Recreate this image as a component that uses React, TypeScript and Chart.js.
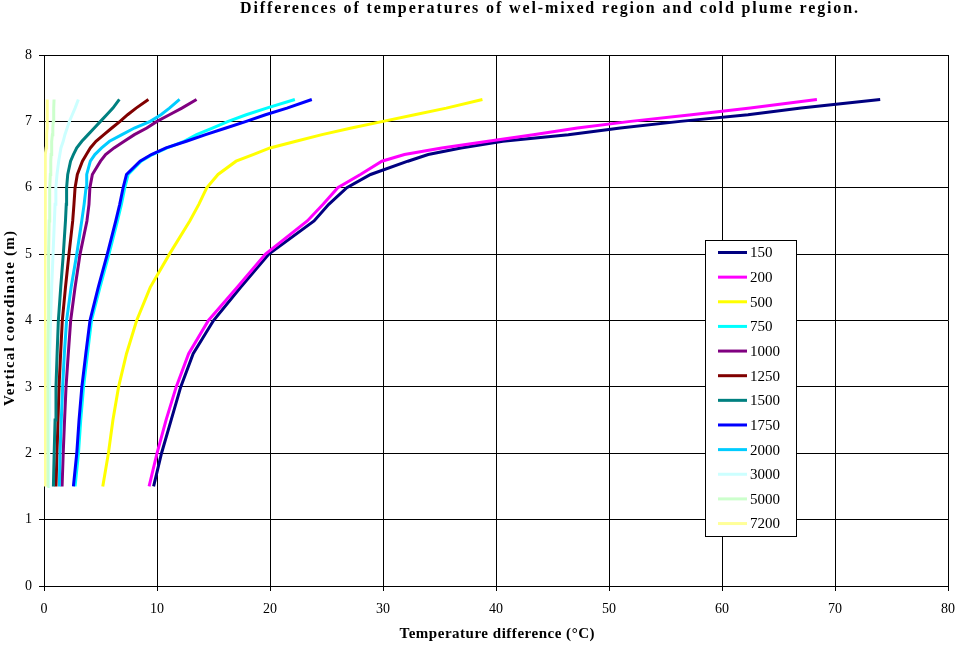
import React, { useEffect, useRef } from "react";
import { Chart, registerables } from "chart.js";

Chart.register(...registerables);

const TITLE = "Differences of temperatures of wel-mixed region and cold plume region.";
const X_TITLE = "Temperature difference (°C)";
const Y_TITLE = "Vertical coordinate (m)";

const xTicks = [0, 10, 20, 30, 40, 50, 60, 70, 80];
const yTicks = [0, 1, 2, 3, 4, 5, 6, 7, 8];

// Vertical coordinate levels (m) shared by all series
const levels = [1.5, 2, 2.5, 3, 3.5, 4, 4.5, 5, 5.5, 5.75, 6, 6.2, 6.4, 6.5, 6.6, 6.7, 6.8, 6.9, 7.0, 7.1, 7.2, 7.33];

const seriesNames = ["150", "200", "500", "750", "1000", "1250", "1500", "1750", "2000", "3000", "5000", "7200"];
const seriesColors = ["#000080", "#FF00FF", "#FFFF00", "#00FFFF", "#800080", "#800000", "#008080", "#0000FF", "#00CCFF", "#CCFFFF", "#CCFFCC", "#FFFF99"];

const t150 = [9.7, 10.4, 11.25, 12.1, 13.2, 15.0, 17.4, 19.9, 23.9, 25.2, 26.8, 28.9, 32.2, 34.0, 36.9, 40.6, 46.4, 51.0, 56.3, 62.3, 67.0, 74.0];
const t200 = [9.3, 10.0, 10.8, 11.7, 12.8, 14.55, 17.1, 19.6, 23.3, 24.7, 26.0, 28.0, 29.9, 31.9, 35.2, 39.3, 43.3, 47.2, 51.9, 57.3, 62.5, 68.4];
const t500 = [5.2, 5.7, 6.1, 6.6, 7.3, 8.2, 9.4, 11.1, 12.9, 13.7, 14.4, 15.4, 17.0, 18.5, 20.0, 22.3, 24.6, 27.2, 30.0, 32.8, 35.6, 38.8];
const t750 = [2.75, 3.05, 3.25, 3.5, 3.85, 4.2, 4.95, 5.75, 6.5, 6.85, 7.15, 7.45, 8.6, 9.6, 10.9, 12.4, 13.5, 14.9, 16.3, 17.9, 19.7, 22.2];
const t1000 = [1.6, 1.7, 1.82, 1.95, 2.15, 2.36, 2.75, 3.19, 3.8, 3.98, 4.06, 4.28, 5.0, 5.45, 6.2, 7.1, 8.0, 9.1, 10.0, 11.1, 12.2, 13.5];
const t1250 = [1.06, 1.15, 1.24, 1.33, 1.47, 1.62, 1.9, 2.21, 2.54, 2.65, 2.75, 2.95, 3.4, 3.75, 4.1, 4.6, 5.3, 6.0, 6.73, 7.4, 8.15, 9.24];
const t1500 = [0.83, 0.9, 0.98, 1.06, 1.16, 1.27, 1.48, 1.71, 1.9, 1.97, 2.0, 2.1, 2.35, 2.6, 2.9, 3.35, 3.9, 4.45, 5.0, 5.55, 6.1, 6.67];
const t1750 = [2.6, 2.9, 3.1, 3.35, 3.7, 4.07, 4.8, 5.6, 6.35, 6.7, 7.0, 7.3, 8.5, 9.5, 10.8, 12.6, 14.3, 16.1, 17.9, 19.6, 21.5, 23.7];
const t2000 = [1.36, 1.42, 1.53, 1.65, 1.8, 2.0, 2.4, 2.9, 3.34, 3.55, 3.72, 3.78, 4.1, 4.5, 5.1, 5.8, 6.9, 8.0, 9.4, 10.35, 11.1, 12.0];
const t3000 = [0.4, 0.42, 0.45, 0.48, 0.52, 0.58, 0.68, 0.8, 0.92, 0.98, 1.05, 1.15, 1.3, 1.4, 1.5, 1.7, 1.85, 2.05, 2.25, 2.5, 2.75, 3.04];
const t5000 = [0.3, 0.31, 0.32, 0.33, 0.35, 0.37, 0.39, 0.42, 0.46, 0.49, 0.52, 0.56, 0.6, 0.63, 0.66, 0.7, 0.74, 0.78, 0.82, 0.85, 0.87, 0.89];
const t7200 = [0.08, 0.08, 0.08, 0.08, 0.08, 0.08, 0.08, 0.09, 0.09, 0.09, 0.1, 0.1, 0.13, 0.16, 0.19, 0.22, 0.25, 0.27, 0.28, 0.28, 0.29, 0.29];

const seriesValues = [t150, t200, t500, t750, t1000, t1250, t1500, t1750, t2000, t3000, t5000, t7200];

const SERIF = '"Liberation Serif", "Times New Roman", serif';

function spacedText(ctx: CanvasRenderingContext2D, text: string, cx: number, cy: number, target: number) {
  (ctx as any).letterSpacing = "0px";
  const w = ctx.measureText(text).width;
  const sp = Math.max(0, (target - w) / (text.length - 1));
  (ctx as any).letterSpacing = `${sp}px`;
  ctx.textAlign = "left";
  ctx.textBaseline = "middle";
  ctx.fillText(text, cx - target / 2, cy);
  (ctx as any).letterSpacing = "0px";
}

const overlayPlugin = {
  id: "overlay",
  afterDraw(chart: any) {
    const ctx = chart.ctx as CanvasRenderingContext2D;
    const area = chart.chartArea;
    // Title
    ctx.save();
    ctx.fillStyle = "#000";
    ctx.font = `bold 16px ${SERIF}`;
    spacedText(ctx, TITLE, 549, 9, 618);
    // Axis titles
    ctx.font = `bold 15px ${SERIF}`;
    spacedText(ctx, X_TITLE, (area.left + area.right) / 2 + 1, 634, 195);
    ctx.save();
    ctx.translate(10, (area.top + area.bottom) / 2 - 2);
    ctx.rotate(-Math.PI / 2);
    spacedText(ctx, Y_TITLE, 0, 0, 175);
    ctx.restore();
    ctx.restore();

    // Legend
    ctx.save();
    const bx = 705.5, by = 240.5, bw = 91, bh = 296;
    ctx.fillStyle = "#fff";
    ctx.fillRect(bx, by, bw, bh);
    ctx.strokeStyle = "#000";
    ctx.lineWidth = 1;
    ctx.strokeRect(bx, by, bw, bh);
    ctx.font = `15px ${SERIF}`;
    ctx.textBaseline = "middle";
    ctx.textAlign = "left";
    chart.data.datasets.forEach((ds: any, i: number) => {
      const y = 252.5 + i * 24.64;
      ctx.strokeStyle = ds.borderColor;
      ctx.lineWidth = 3;
      ctx.beginPath();
      ctx.moveTo(718, y);
      ctx.lineTo(747, y);
      ctx.stroke();
      ctx.fillStyle = "#000";
      ctx.fillText(ds.label, 750, y + 1);
    });
    ctx.restore();
  },
};

export default function App() {
  const ref = useRef<HTMLCanvasElement | null>(null);
  useEffect(() => {
    if (!ref.current) return;
    const datasets = seriesNames.map((name, i) => ({
      label: name,
      data: levels.map((lv, k) => ({ x: seriesValues[i][k], y: lv })),
      borderColor: seriesColors[i],
      backgroundColor: seriesColors[i],
      borderWidth: 3,
      pointRadius: 0,
      showLine: true,
      tension: 0,
      fill: false,
      order: -i,
    }));
    const chart = new Chart(ref.current, {
      type: "scatter",
      data: { datasets },
      options: {
        animation: false,
        responsive: false,
        maintainAspectRatio: false,
        layout: { padding: { top: 55, right: 0, left: 0, bottom: 0 } },
        plugins: {
          legend: { display: false },
          title: { display: false },
          tooltip: { enabled: false },
        },
        scales: {
          x: {
            type: "linear",
            min: 0,
            max: 80,
            afterFit: (s: any) => { s.height = 60; s.paddingLeft = 0; s.paddingRight = 7; },
            afterBuildTicks: (s: any) => { s.ticks = xTicks.map((v) => ({ value: v })); },
            ticks: { stepSize: 10, color: "#000", font: { family: SERIF, size: 14 }, padding: 10, maxRotation: 0 },
            grid: { color: "#000", lineWidth: 1, tickLength: 5, tickColor: "#000", drawTicks: true },
            border: { color: "#000", width: 1 },
            title: { display: false },
          },
          y: {
            type: "linear",
            min: 0,
            max: 8,
            afterFit: (s: any) => { s.width = 44; },
            afterBuildTicks: (s: any) => { s.ticks = yTicks.map((v) => ({ value: v })); },
            ticks: { stepSize: 1, color: "#000", font: { family: SERIF, size: 14 }, padding: 7 },
            grid: { color: "#000", lineWidth: 1, tickLength: 5, tickColor: "#000", drawTicks: true },
            border: { color: "#000", width: 1 },
            title: { display: false },
          },
        },
      },
      plugins: [overlayPlugin],
    });
    return () => chart.destroy();
  }, []);
  return (
    <div style={{ position: "absolute", left: 0, top: 0, width: 955, height: 646, background: "#fff" }}>
      <canvas ref={ref} width={955} height={646} style={{ display: "block", width: 955, height: 646 }} />
    </div>
  );
}
